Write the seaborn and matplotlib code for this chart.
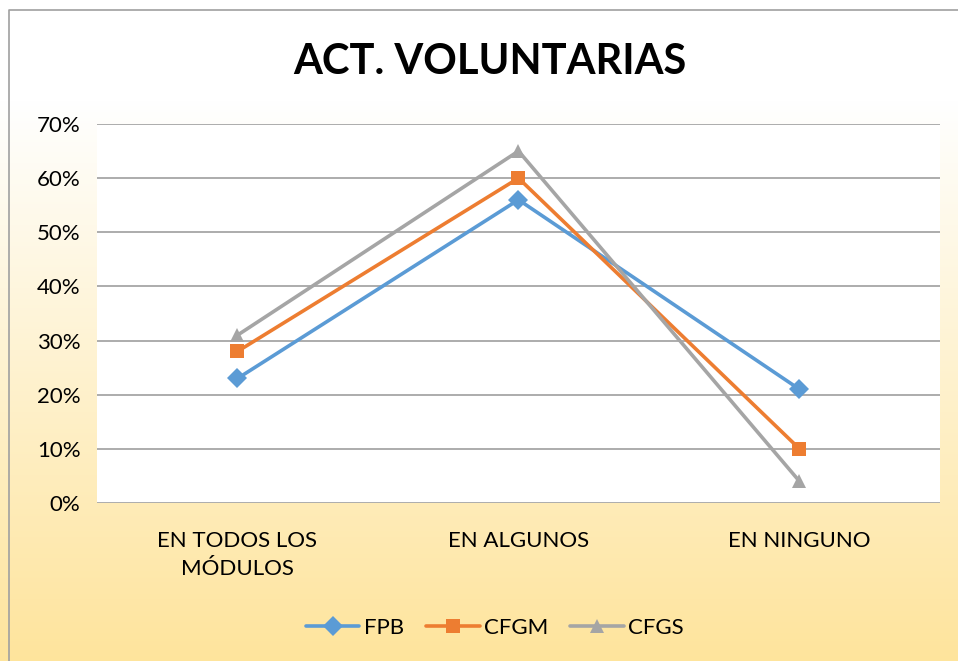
import numpy as np
import pandas as pd
import matplotlib.pyplot as plt
import seaborn as sns

# Chart data
categories = ["EN TODOS LOS\nMÓDULOS", "EN ALGUNOS", "EN NINGUNO"]
series_names = ["FPB", "CFGM", "CFGS"]
fpb = [0.23, 0.56, 0.21]
cfgm = [0.28, 0.60, 0.10]
cfgs = [0.31, 0.65, 0.04]
y_ticks = [0.0, 0.1, 0.2, 0.3, 0.4, 0.5, 0.6, 0.7]

colors = {"FPB": "#5B9BD5", "CFGM": "#ED7D31", "CFGS": "#A5A5A5"}
markers = {"FPB": "D", "CFGM": "s", "CFGS": "^"}

df = pd.DataFrame({
    "cat": categories * 3,
    "serie": [s for s in series_names for _ in categories],
    "valor": fpb + cfgm + cfgs,
})

sns.set_style("white")
plt.rcParams["font.family"] = ["Lato", "DejaVu Sans"]
plt.rcParams["text.color"] = "black"
plt.rcParams["xtick.color"] = "black"
plt.rcParams["ytick.color"] = "black"

fig = plt.figure(figsize=(9.58, 6.61), dpi=100)

# gradient background (white at top -> soft yellow at bottom)
bg = fig.add_axes([0, 0, 1, 1], zorder=-10)
h = 661
t = np.clip((np.arange(h) - 100) / (h - 100), 0, 1)
top = np.array([1.0, 1.0, 1.0])
bot = np.array([254, 228, 156]) / 255
grad = top[None, :] * (1 - t[:, None]) + bot[None, :] * t[:, None]
img = np.repeat(grad[:, None, :], 10, axis=1)
bg.imshow(img, aspect="auto", extent=[0, 1, 0, 1], origin="upper")
bg.plot([9 / 958, 9 / 958, 1], [0, 1 - 10 / 661, 1 - 10 / 661], color="#A0A0A0", lw=1.2)
bg.set_xlim(0, 1)
bg.set_ylim(0, 1)
bg.axis("off")

ax = fig.add_axes([97 / 958, 1 - 503 / 661, 843 / 958, 379 / 661])
ax.set_facecolor("white")

sns.lineplot(data=df, x="cat", y="valor", hue="serie", style="serie",
             palette=colors, markers=markers, dashes=False, sort=False,
             linewidth=2.6, markersize=10, markeredgewidth=0, ax=ax, legend=False)

ax.set_xlim(-0.5, 2.5)
ax.set_ylim(0, 0.7)
ax.set_yticks(y_ticks)
ax.set_yticklabels([f"{int(round(v * 100))}%" for v in y_ticks], fontsize=16)
ax.set_xticks(range(len(categories)))
ax.set_xticklabels(categories, fontsize=16, linespacing=1.5)
ax.tick_params(axis="x", pad=20, length=0)
ax.tick_params(axis="y", pad=12, length=0)
ax.yaxis.grid(True, color="#A6A6A6", lw=1.3)
ax.set_axisbelow(True)
for sp in ax.spines.values():
    sp.set_visible(False)
ax.set_xlabel("")
ax.set_ylabel("")

fig.text(490 / 958, 1 - 62 / 661, "ACT. VOLUNTARIAS", ha="center", va="center",
         fontsize=30, fontweight="bold", color="black")

handles = [plt.Line2D([], [], color=colors[s], marker=markers[s], lw=2.6,
                      markersize=10, markeredgewidth=0) for s in series_names]
fig.legend(handles, series_names, loc="center", bbox_to_anchor=(495 / 958, 1 - 628 / 661),
           ncol=3, frameon=False, fontsize=16, handlelength=2.4, columnspacing=1.0,
           handletextpad=0.2)

fig.savefig("out.png", dpi=100)
